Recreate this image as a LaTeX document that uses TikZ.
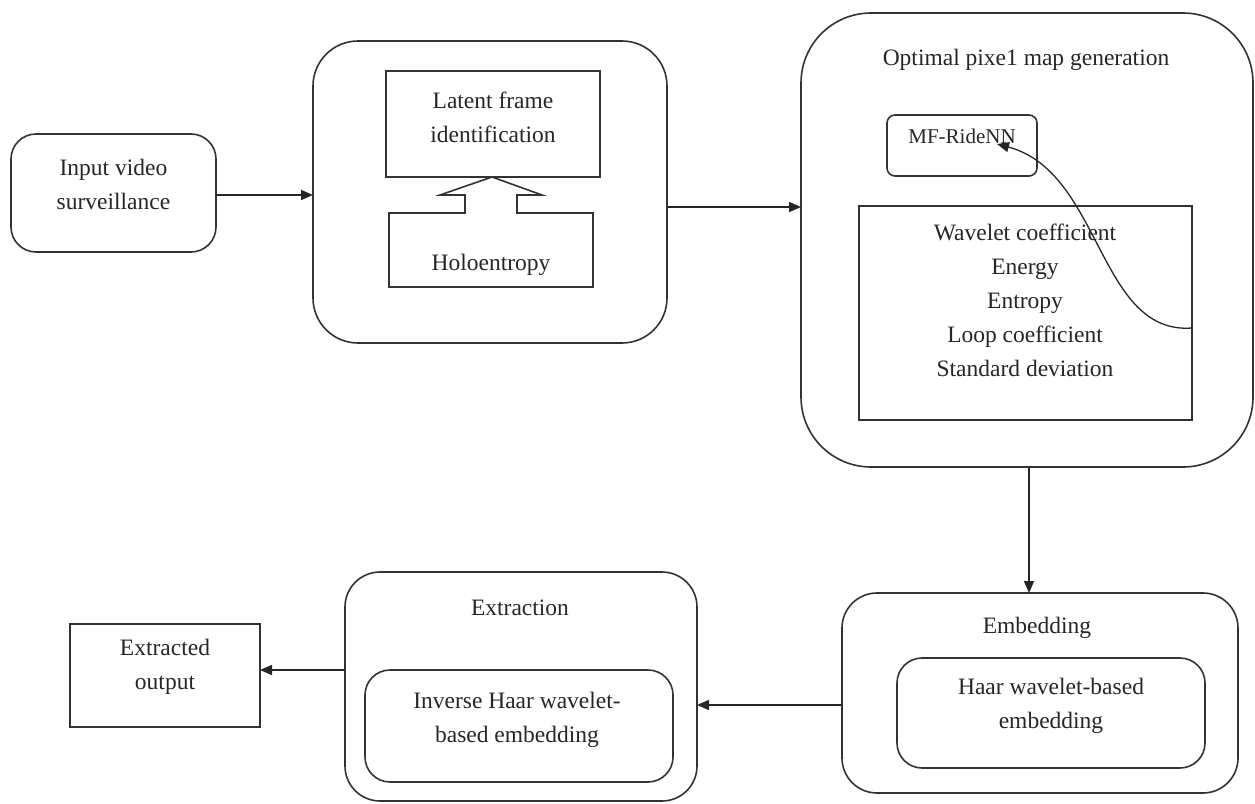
\documentclass[tikz,border=0pt]{standalone}
\usepackage{fontspec}
\setmainfont{Liberation Serif}
\usetikzlibrary{arrows.meta,calc}
\begin{document}
\begin{tikzpicture}[x=1pt,y=-1pt,
  line width=1.6pt,
  every node/.style={inner sep=0pt,outer sep=0pt},
  rbox/.style={draw=black!80,rounded corners=#1},
  sbox/.style={draw=black!80},
  txt/.style={align=center,text=black!85,font=\fontsize{23.5}{34}\selectfont},
  arr/.style={draw=black!85,-{Triangle[length=12pt,width=10pt]}}]
\useasboundingbox (0,0) rectangle (1255,803);
% input
\node[rbox=25pt,minimum width=205pt,minimum height=118pt] (in) at (113.5,193) {};
\node[txt] (intx) at (113.5,184) {Input video\\surveillance};
% box 2
\node[rbox=45pt,minimum width=354pt,minimum height=302pt] (b2) at (490,192) {};
\node[sbox,minimum width=214pt,minimum height=106pt] (lat) at (493,124) {};
\node[txt] (lattx) at (493,117.5) {Latent frame\\identification};
\node[minimum width=204pt,minimum height=74pt] (holo) at (491,250) {};
\draw[black!80,line join=miter] (389,213) -- (465,213) -- (465,195) -- (440,195) -- (492,177) -- (542,195) -- (517,195) -- (517,213) -- (593,213) -- (593,287) -- (389,287) -- cycle;
\node[txt] (holotx) at (491,265) {Holoentropy};
% box 3
\node[rbox=70pt,minimum width=452pt,minimum height=454pt] (b3) at (1027,240) {};
\node[txt] (b3tx) at (1026,60) {Optimal pixe1 map generation};
\node[rbox=8pt,minimum width=150pt,minimum height=61pt] (mf) at (962,145.5) {};
\node[txt,font=\fontsize{21}{34}\selectfont] (mftx) at (962,136) {MF-RideNN};
\node[sbox,minimum width=333pt,minimum height=214pt] (feat) at (1025.5,313) {};
\node[txt] (feattx) at (1025,300) {Wavelet coefficient\\Energy\\Entropy\\Loop coefficient\\Standard deviation};
\coordinate (cstart) at (1192,328);
\coordinate (cend) at (997,144);
\draw[arr,line width=1.3pt] (cstart) .. controls (1098,335) and (1102,172) .. (cend);
% embedding
\node[rbox=35pt,minimum width=396pt,minimum height=200pt] (emb) at (1040,693) {};
\node[txt] (embtx) at (1037,628) {Embedding};
\node[rbox=25pt,minimum width=308pt,minimum height=110pt] (embin) at (1051,713) {};
\node[txt] (embintx) at (1051,705.5) {Haar wavelet-based\\embedding};
% extraction
\node[rbox=35pt,minimum width=352pt,minimum height=229pt] (ext) at (521,686.5) {};
\node[txt] (exttx) at (520,608) {Extraction};
\node[rbox=25pt,minimum width=308pt,minimum height=112pt] (extin) at (519,726) {};
\node[txt] (extintx) at (517,719.5) {Inverse Haar wavelet-\\based embedding};
% output
\node[sbox,minimum width=190pt,minimum height=103pt] (out) at (165,675.5) {};
\node[txt] (outtx) at (165,667) {Extracted\\output};
% connectors
\draw[arr] ([yshift=-2pt]in.east) -- ([yshift=-2pt]in.east -| b2.west);
\draw[arr] ([yshift=-15pt]b2.east) -- ([yshift=-15pt]b2.east -| b3.west);
\draw[arr] ([xshift=2pt]b3.south) -- ([xshift=2pt]b3.south |- emb.north);
\draw[arr] ([yshift=-12pt]emb.west) -- ([yshift=-12pt]emb.west -| ext.east);
\draw[arr] ([yshift=16.5pt]ext.west) -- ([yshift=16.5pt]ext.west -| out.east);
\end{tikzpicture}
\end{document}
